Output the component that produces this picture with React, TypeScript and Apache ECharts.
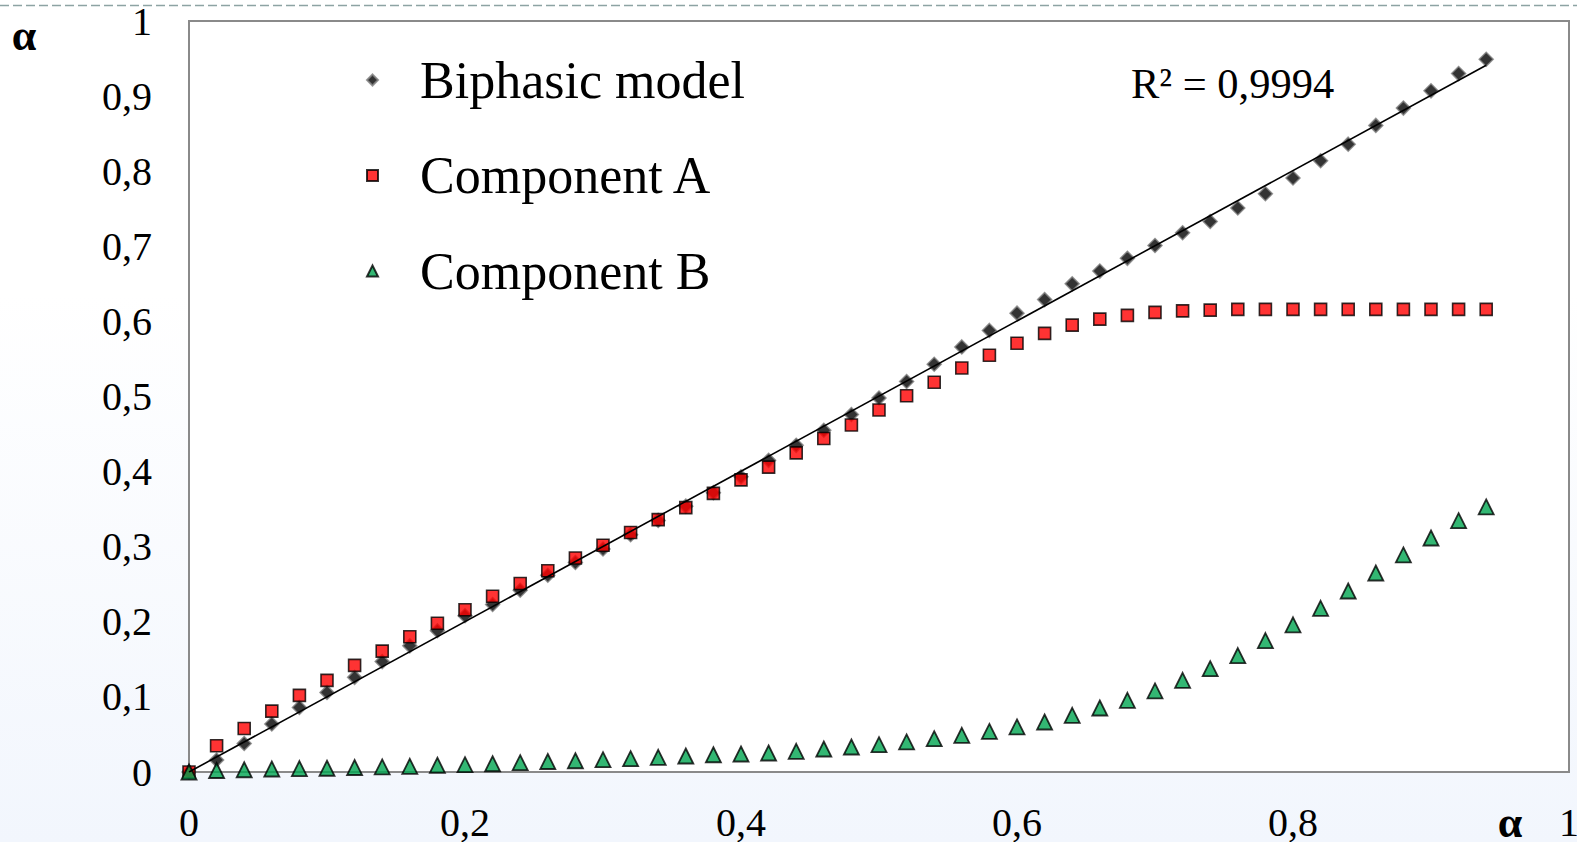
import React, { useEffect, useRef } from "react";
import * as echarts from "echarts";

// Degree of conversion α (x) for every sample point
const alphaX = [
  0, 0.02, 0.04, 0.06, 0.08, 0.1, 0.12, 0.14, 0.16, 0.18, 0.2, 0.22, 0.24, 0.26, 0.28, 0.3,
  0.32, 0.34, 0.36, 0.38, 0.4, 0.42, 0.44, 0.46, 0.48, 0.5, 0.52, 0.54, 0.56, 0.58, 0.6, 0.62,
  0.64, 0.66, 0.68, 0.7, 0.72, 0.74, 0.76, 0.78, 0.8, 0.82, 0.84, 0.86, 0.88, 0.9, 0.92, 0.94,
];

// Biphasic model prediction
const biphasic = [
  0, 0.016, 0.038, 0.064, 0.086, 0.106, 0.126, 0.147, 0.168, 0.188, 0.208, 0.223, 0.242, 0.262,
  0.279, 0.297, 0.316, 0.335, 0.354, 0.372, 0.393, 0.415, 0.435, 0.455, 0.476, 0.498, 0.52,
  0.543, 0.566, 0.588, 0.611, 0.629, 0.65, 0.667, 0.684, 0.701, 0.718, 0.733, 0.751, 0.77,
  0.791, 0.814, 0.836, 0.861, 0.884, 0.907, 0.93, 0.949,
];

// Contribution of component A
const componentA = [
  0, 0.035, 0.058, 0.081, 0.102, 0.122, 0.142, 0.161, 0.18, 0.198, 0.216, 0.234, 0.251, 0.268,
  0.285, 0.302, 0.319, 0.336, 0.352, 0.371, 0.389, 0.406, 0.425, 0.444, 0.462, 0.482, 0.501,
  0.519, 0.538, 0.555, 0.571, 0.584, 0.595, 0.603, 0.608, 0.612, 0.614, 0.615, 0.616, 0.616,
  0.616, 0.616, 0.616, 0.616, 0.616, 0.616, 0.616, 0.616,
];

// Contribution of component B
const componentB = [
  0, 0.002, 0.003, 0.004, 0.0045, 0.005, 0.006, 0.0067, 0.0075, 0.009, 0.0098, 0.011, 0.0124,
  0.014, 0.015, 0.0164, 0.0177, 0.0195, 0.0213, 0.023, 0.024, 0.0253, 0.0275, 0.0306, 0.0333,
  0.0364, 0.04, 0.0444, 0.0488, 0.054, 0.06, 0.0666, 0.0755, 0.0852, 0.0955, 0.108, 0.122,
  0.1376, 0.155, 0.175, 0.196, 0.218, 0.241, 0.265, 0.289, 0.3116, 0.3346, 0.353,
];

const seriesNames = ["Biphasic model", "Component A", "Component B"];
const rSquaredText = "R² = 0,9994";

const SERIF = "Liberation Serif";

const pairs = (ys: number[]) => alphaX.map((x, i) => [x, ys[i]]);

// Least-squares line through the origin fitted to the biphasic model points
const fitSlope = (() => {
  let sxy = 0;
  let sxx = 0;
  alphaX.forEach((x, i) => {
    sxy += x * biphasic[i];
    sxx += x * x;
  });
  return sxy / sxx;
})();

const commaNumber = (v: number) => String(Number(v.toFixed(2))).replace(".", ",");

export default function App() {
  const ref = useRef<HTMLDivElement>(null);

  useEffect(() => {
    if (!ref.current) return;
    const chart = echarts.init(ref.current, null, { renderer: "svg" });
    const xFirst = alphaX[0];
    const xLast = alphaX[alphaX.length - 1];

    chart.setOption({
      animation: false,
      backgroundColor: "transparent",
      grid: {
        left: 189,
        top: 21,
        right: 8,
        bottom: 70,
        show: true,
        backgroundColor: "#ffffff",
        borderColor: "#8a8a8a",
        borderWidth: 2,
        outerBoundsMode: "none",
        containLabel: false,
      },
      xAxis: {
        type: "value",
        min: 0,
        max: 1,
        interval: 0.2,
        axisLine: { show: false },
        axisTick: { show: false },
        splitLine: { show: false },
        axisLabel: {
          formatter: commaNumber,
          fontFamily: SERIF,
          fontSize: 40,
          color: "#000",
          margin: 30,
        },
      },
      yAxis: {
        type: "value",
        min: 0,
        max: 1,
        interval: 0.1,
        axisLine: { show: false },
        axisTick: { show: false },
        splitLine: { show: false },
        axisLabel: {
          formatter: commaNumber,
          fontFamily: SERIF,
          fontSize: 40,
          color: "#000",
          margin: 37,
        },
      },
      legend: {
        orient: "vertical",
        left: 366,
        top: 54,
        padding: 0,
        itemWidth: 11,
        itemHeight: 11,
        itemGap: 43.5,
        selectedMode: false,
        data: seriesNames,
        textStyle: {
          fontFamily: SERIF,
          fontSize: 52,
          color: "#000",
          padding: [0, 0, 0, 37],
        },
      },
      graphic: [
        {
          type: "line",
          shape: { x1: 0, y1: 5.5, x2: 1577, y2: 5.5 },
          style: { stroke: "#8da3a3", lineWidth: 1.5, lineDash: [9, 4] },
          silent: true,
        },
        {
          type: "text",
          x: 1131,
          y: 83,
          style: {
            text: rSquaredText,
            fontFamily: SERIF,
            fontSize: 42.5,
            fill: "#000",
            align: "left",
            verticalAlign: "middle",
          },
          silent: true,
        },
        {
          type: "text",
          x: 24,
          y: 35,
          style: {
            text: "α",
            fontFamily: SERIF,
            fontSize: 44,
            fontWeight: "bold",
            fill: "#000",
            align: "center",
            verticalAlign: "middle",
          },
          silent: true,
        },
        {
          type: "text",
          x: 1510,
          y: 822,
          style: {
            text: "α",
            fontFamily: SERIF,
            fontSize: 44,
            fontWeight: "bold",
            fill: "#000",
            align: "center",
            verticalAlign: "middle",
          },
          silent: true,
        },
      ],
      series: [
        {
          name: seriesNames[0],
          type: "scatter",
          data: pairs(biphasic),
          symbol: "diamond",
          symbolSize: 14,
          clip: false,
          silent: true,
          itemStyle: { color: "#000000", borderColor: "#808080", borderWidth: 1.5 },
        },
        {
          name: seriesNames[1],
          type: "scatter",
          data: pairs(componentA),
          symbol: "rect",
          symbolSize: 12,
          clip: false,
          silent: true,
          itemStyle: { color: "#ff0000", borderColor: "#000000", borderWidth: 1.6 },
        },
        {
          name: "Linear (Biphasic model)",
          type: "line",
          data: [
            [xFirst, fitSlope * xFirst],
            [xLast, fitSlope * xLast],
          ],
          showSymbol: false,
          silent: true,
          lineStyle: { color: "#000000", width: 1.6 },
        },
        {
          name: seriesNames[2],
          type: "scatter",
          data: pairs(componentB),
          symbol: "triangle",
          symbolSize: 15,
          clip: false,
          silent: true,
          itemStyle: { color: "#00a550", borderColor: "#000000", borderWidth: 1.8 },
        },
      ],
    });

    return () => chart.dispose();
  }, []);

  return (
    <div
      style={{
        position: "absolute",
        left: 0,
        top: 0,
        width: 1577,
        height: 842,
        background: "linear-gradient(to bottom, #ffffff 0%, #ffffff 35%, #f2f6fd 100%)",
      }}
    >
      <div ref={ref} style={{ width: 1577, height: 842 }} />
    </div>
  );
}
